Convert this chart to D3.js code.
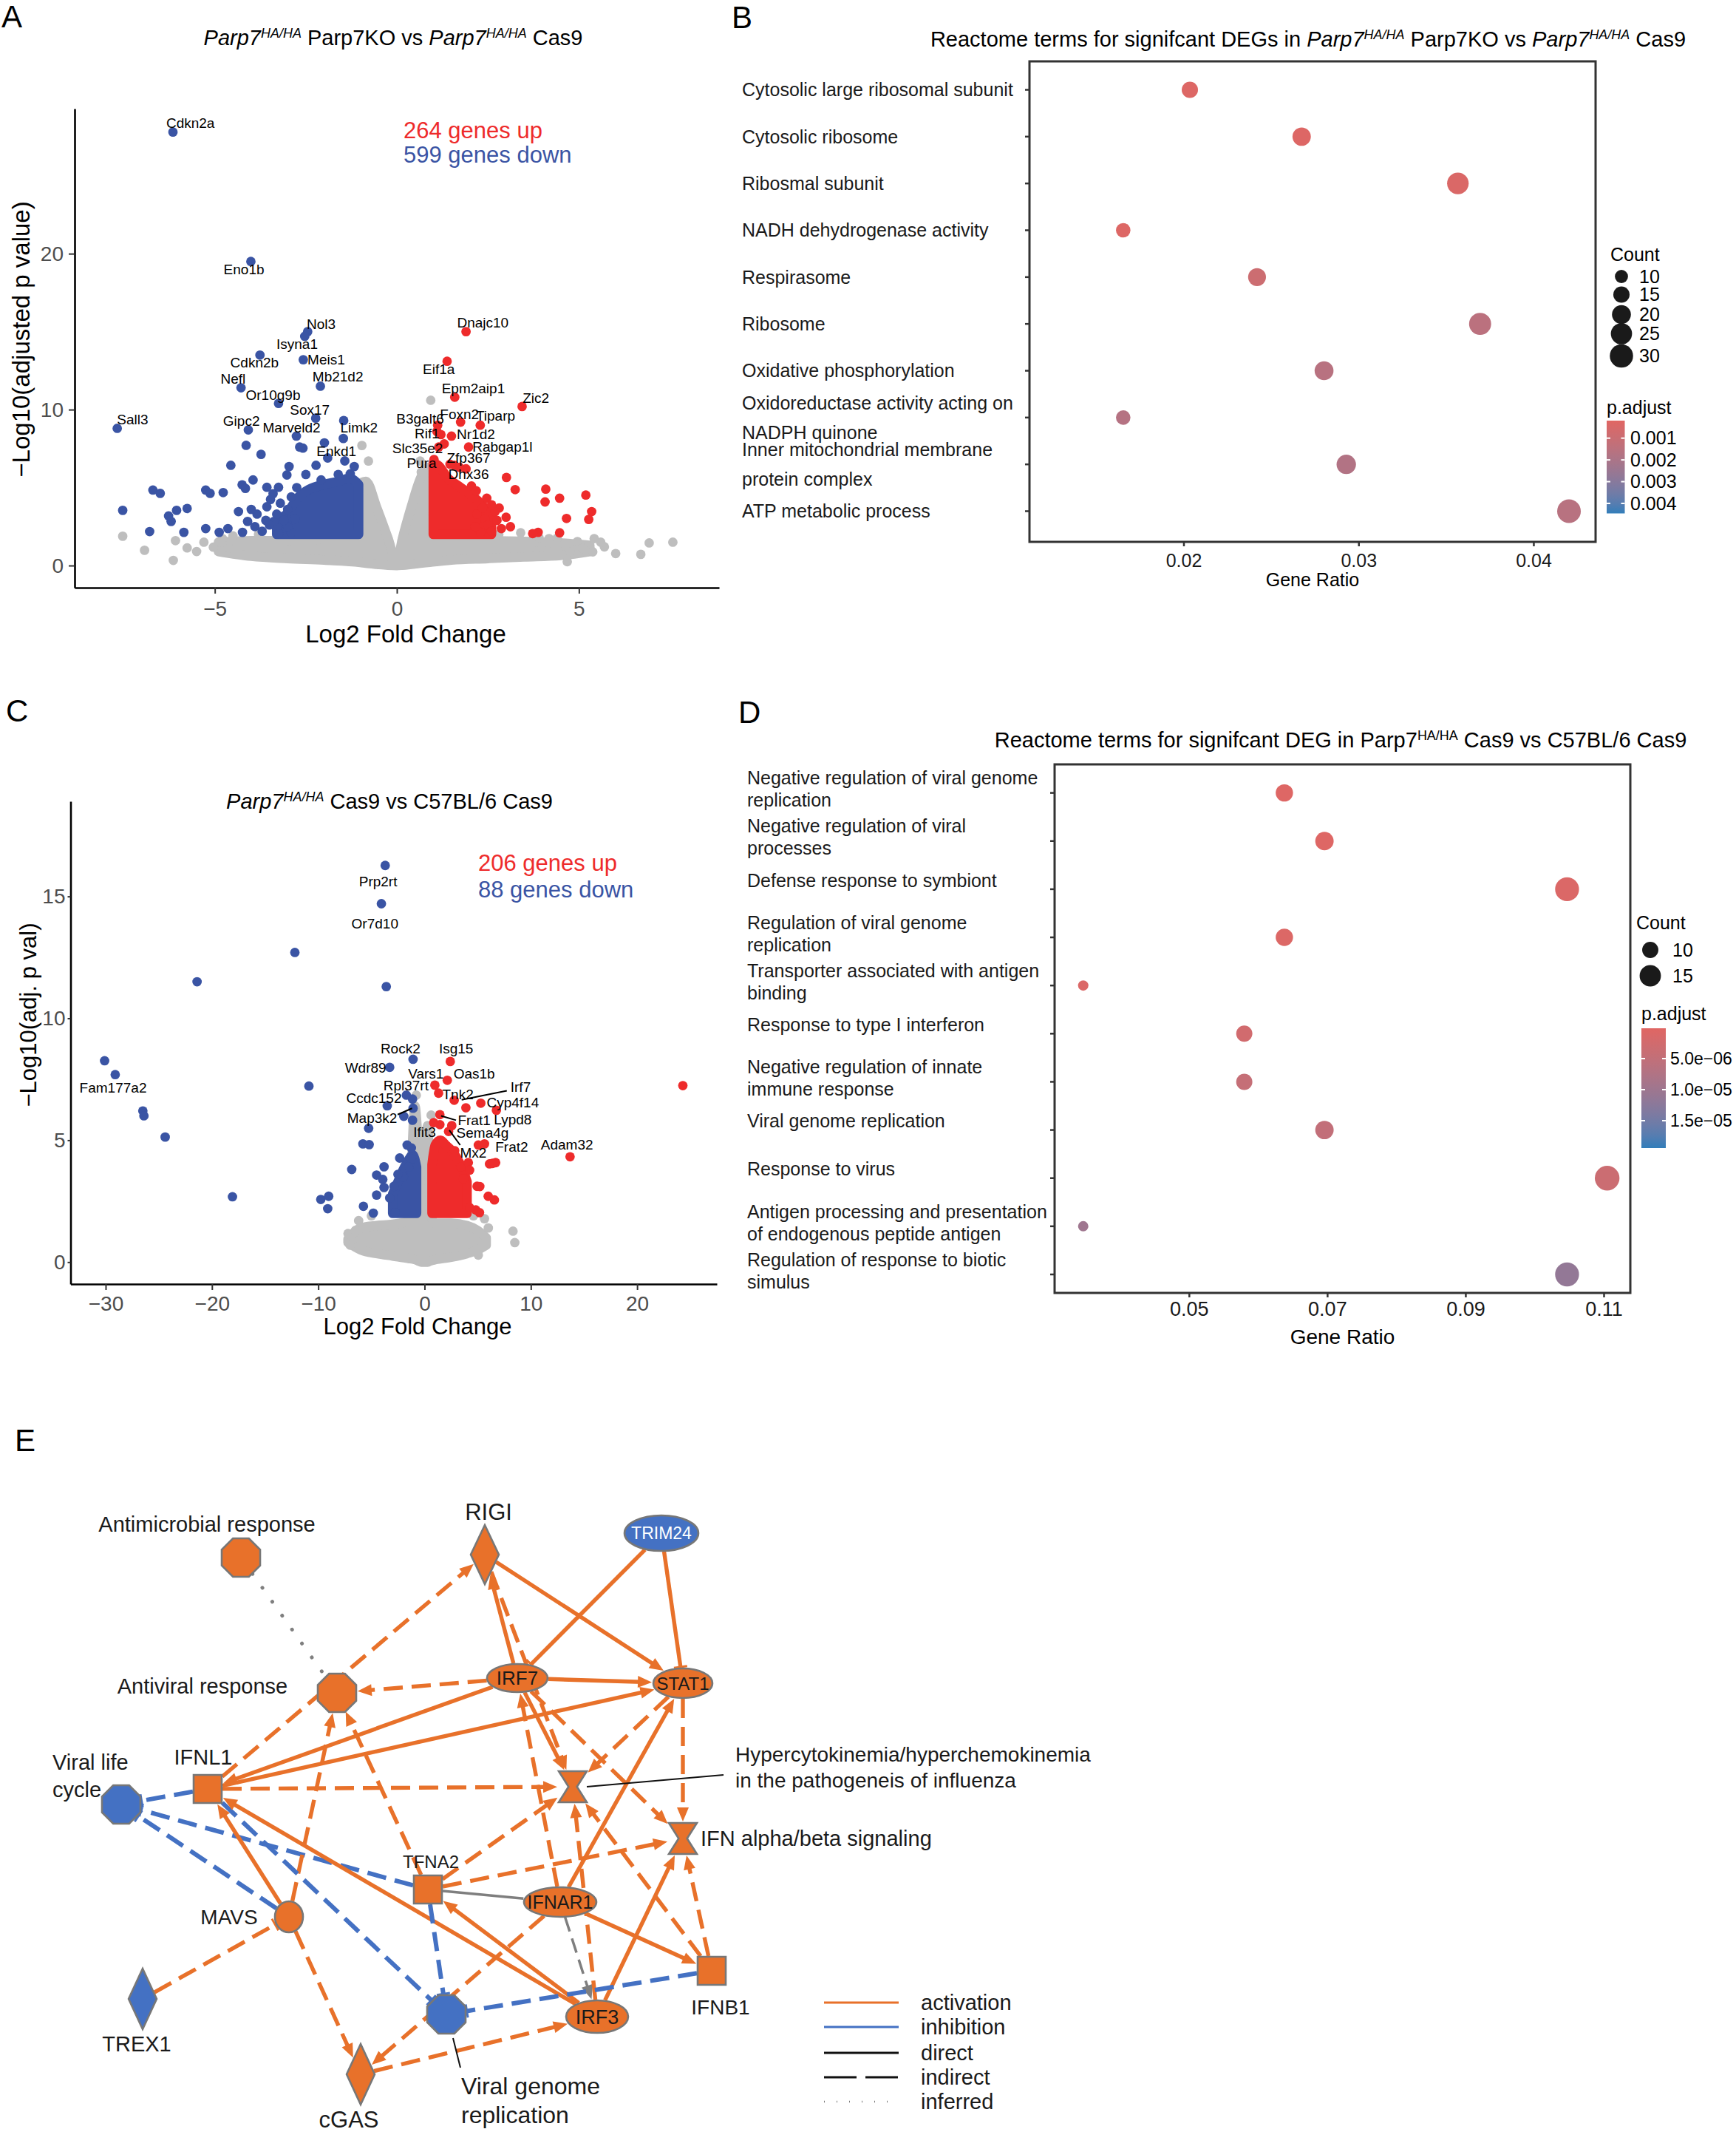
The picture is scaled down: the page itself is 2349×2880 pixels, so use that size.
<!DOCTYPE html>
<html>
<head>
<meta charset="utf-8">
<script src="https://cdn.jsdelivr.net/npm/d3@7"></script>
<style>
  body { margin: 0; background: #fff; }
</style>
</head>
<body>
<div id="fig"></div>
<script>
// ---------------- data: panel A (Parp7KO vs Cas9 volcano) ----------------
// labelled genes: [gene, log2FC, -log10 padj, label x, label y]
const aDownLabelled = [
  ["Cdkn2a", -6.15, 27.8, -5.67, 28.4], ["Eno1b", -4.01, 19.5, -4.2, 19.0],
  ["Nol3", -2.45, 15.0, -2.08, 15.5], ["Isyna1", -2.53, 14.7, -2.74, 14.2],
  ["Cdkn2b", -3.76, 13.5, -3.91, 13.0], ["Meis1", -2.57, 13.2, -1.94, 13.2],
  ["Mb21d2", -2.1, 11.5, -1.62, 12.1], ["Nefl", -4.28, 11.4, -4.5, 12.0],
  ["Or10g9b", -3.25, 10.4, -3.4, 10.95], ["Sox17", -2.23, 9.45, -2.39, 10.0],
  ["Sall3", -7.68, 8.8, -7.26, 9.36], ["Gipc2", -4.08, 8.7, -4.27, 9.28],
  ["Marveld2", -2.76, 8.3, -2.89, 8.83], ["Limk2", -1.46, 9.3, -1.04, 8.83],
  ["Enkd1", -1.9, 6.9, -1.66, 7.32]
];
const aUpLabelled = [
  ["Dnajc10", 1.9, 15.0, 2.36, 15.6], ["Eif1a", 1.38, 13.1, 1.15, 12.6],
  ["Epm2aip1", 1.59, 10.8, 2.1, 11.35], ["Zic2", 3.44, 10.2, 3.82, 10.74],
  ["B3galt6", 1.12, 9.0, 0.64, 9.42], ["Foxn2", 1.75, 9.2, 1.72, 9.7],
  ["Tiparp", 2.29, 9.0, 2.71, 9.6], ["Rif1", 1.21, 8.4, 0.83, 8.49],
  ["Nr1d2", 1.5, 8.3, 2.17, 8.44], ["Rabgap1l", 1.97, 7.6, 2.9, 7.64],
  ["Slc35e2", 1.15, 7.6, 0.57, 7.51], ["Zfp367", 1.46, 6.5, 1.97, 6.9],
  ["Pura", 1.02, 6.8, 0.68, 6.58], ["Dhx36", 1.72, 6.3, 1.97, 5.86]
];
const aDownPts = [
  [-7.53,3.54],[-6.7,4.84],[-6.5,4.63],[-6.79,2.18],[-6.27,3.18],[-6.2,2.83],[-6.05,3.54],
  [-5.76,3.66],[-5.85,2.13],[-5.25,4.84],[-5.13,4.63],[-4.77,4.68],[-5.25,2.37],[-4.88,2.13],
  [-4.64,2.37],[-4.56,6.43],[-4.35,3.46],[-4.25,5.18],[-4.14,7.71],[-3.95,5.49],[-4.16,4.95],
  [-3.84,3.3],[-4.1,2.83],[-4.24,2.13],[-3.73,7.13],[-3.57,5.02],[-3.47,4.24],[-3.57,3.77],
  [-3.38,2.83],[-3.25,2.05],[-3.25,5.02],[-3.02,5.81],[-2.96,6.35],[-2.9,2.13],[-3.13,3.15],
  [-2.67,7.6],[-2.58,7.53],[-2.5,5.84],[-2.22,6.43],[-1.99,7.87],[-2.08,5.49],[-1.61,5.84],
  [-1.47,8.15],[-1.43,6.71],[-1.28,5.88],[-1.17,6.35],[-3.4,4.6],[-3.2,4.0],[-3.0,3.6],
  [-2.9,4.4],[-2.8,3.0],[-3.3,3.3],[-3.0,2.5],[-2.75,5.0],[-3.1,2.9],[-3.5,2.6],[-4.0,3.6],
  [-3.9,2.5],[-3.7,2.2],[-3.6,2.9]
];
const aUpPts = [
  [3.01,5.65],[2.05,5.1],[2.18,4.79],[3.25,4.87],[4.09,4.9],[4.07,4.08],[4.47,4.32],
  [5.19,4.52],[5.35,3.46],[5.27,2.96],[4.66,3.02],[4.47,2.1],[3.88,2.13],[3.73,2.05],
  [3.12,2.49],[2.87,2.37],[2.81,3.69],[2.7,3.46],[2.47,4.32],[2.41,2.99],[2.3,2.13],
  [1.9,6.2],[1.58,6.43],[2.6,3.9],[2.5,2.6],[2.2,3.3],[2.35,3.7],[2.6,2.2],[2.75,2.9],
  [3.0,3.1],[2.15,2.5],[1.3,7.8],[1.1,8.6]
];
const aGrayPts = [
  [-7.53,1.88],[-6.93,0.98],[-6.14,0.33],[-6.08,1.6],[-5.76,1.13],[-5.04,1.18],[-4.79,1.73],
  [6.93,1.45],[7.58,1.5],[6.7,0.72],[6.01,0.77],[5.38,0.88],[5.42,1.73],[4.96,1.54],
  [4.68,0.25],[4.76,0.88],[4.18,1.73],[-0.96,7.7],[-0.78,6.7],[0.67,6.0],[0.93,10.6],
  [0.64,6.7],[5.7,1.2],[5.1,1.1],[-5.5,0.9],[-4.6,1.1],[-4.5,1.9],[-3.8,2.0],[-3.3,1.95],
  [2.8,2.0],[3.4,2.1],[3.9,1.8],[4.4,1.75],[-5.3,1.5],[5.6,1.5]
];
// dense clouds read as envelopes: x, lower and upper -log10 padj
const aGrayX    = [-4.9, -4.0, -3.0, -2.0, -1.0, -0.85, -0.55, -0.25, 0.0, 0.15, 0.4, 0.65, 0.85, 1.5, 2.5, 3.5, 4.5, 5.3];
const aGrayLow  = [0.9, 0.6, 0.45, 0.35, 0.2, 0.15, 0.08, 0.02, 0.0, 0.02, 0.08, 0.15, 0.2, 0.35, 0.45, 0.55, 0.65, 0.9];
const aGrayHigh = [1.5, 1.6, 1.6, 1.7, 5.3, 5.4, 3.7, 1.8, 0.2, 1.7, 3.8, 5.6, 6.3, 1.6, 1.6, 1.55, 1.45, 1.3];
const aDownBlockX    = [-3.3, -3.0, -2.7, -2.4, -2.0, -1.6, -1.3, -1.05];
const aDownBlockHigh = [2.6, 3.4, 4.4, 4.9, 5.2, 5.4, 5.6, 5.2];
const aUpBlockX    = [1.0, 1.15, 1.4, 1.7, 2.0, 2.3, 2.6];
const aUpBlockHigh = [6.6, 6.4, 5.6, 5.1, 4.6, 4.0, 3.2];
const aCounts = ["264 genes up", "599 genes down"];

// ---------------- data: panel C (Parp7 Cas9 vs C57BL/6 Cas9 volcano) ----------------
const cDownLabelled = [
  ["Prp2rt", -3.7, 16.27, -4.37, 15.6], ["Or7d10", -4.06, 14.7, -4.67, 13.9],
  ["Fam177a2", -29.1, 7.69, -29.3, 7.15], ["Rock2", -1.08, 8.32, -2.27, 8.76],
  ["Wdr89", -3.28, 7.99, -5.55, 7.98], ["Rpl37rt", -1.71, 6.85, -1.75, 7.25],
  ["Ccdc152", -3.51, 6.41, -4.76, 6.72], ["Map3k2", -1.08, 6.31, -4.93, 5.9]
];
const cUpLabelled = [
  ["Isg15", 2.42, 8.23, 2.97, 8.76], ["Vars1", 0.97, 7.26, 0.13, 7.72],
  ["Oas1b", 2.14, 7.46, 4.67, 7.72], ["Tnk2", 1.32, 6.93, 3.14, 6.89],
  ["Irf7", 2.79, 6.64, 9.04, 7.2], ["Cyp4f14", 5.29, 6.52, 8.3, 6.55],
  ["Lypd8", 6.76, 6.23, 8.3, 5.85], ["Frat1", 1.44, 6.05, 4.67, 5.82],
  ["Ifit3", 0.86, 5.72, 0.0, 5.35], ["Sema4g", 2.56, 5.6, 5.46, 5.3],
  ["Mx2", 2.26, 5.36, 4.59, 4.49], ["Frat2", 5.64, 4.85, 8.2, 4.73],
  ["Adam32", 13.69, 4.32, 13.4, 4.82]
];
// label leader segments [x1, y1, x2, y2] in data units
const cLeaders = [[3.49,6.66,7.74,7.03],[-2.53,6.05,-1.17,6.31],[1.56,6.0,2.96,5.82],[2.33,5.41,3.35,4.8]];
const cDownPts = [
  [-12.2,12.7],[-21.4,11.5],[-3.6,11.3],[-30.1,8.26],[-10.88,7.22],[-26.5,6.2],[-26.4,6.0],
  [-24.4,5.13],[-18.07,2.68],[-6.85,3.8],[-1.13,6.69],[-1.95,5.98],[-1.13,5.82],[-5.26,5.49],
  [-5.8,4.85],[-5.21,4.82],[-1.64,4.8],[-1.24,4.68],[-2.34,4.27],[-1.24,4.23],[-3.81,3.91],
  [-4.51,3.57],[-3.93,3.39],[-3.81,3.06],[-2.88,3.11],[-4.51,2.75],[-3.28,2.63],[-9.76,2.57],
  [-9.02,2.7],[-9.11,2.19],[-5.75,2.29],[-4.82,2.01],[-2.76,2.03],[-2.0,3.5],[-1.5,3.9],[-2.5,3.6]
];
const cUpPts = [
  [3.89,6.33],[1.44,5.64],[2.84,4.57],[5.06,4.8],[6.11,4.03],[6.69,4.08],[6.4,4.05],
  [3.42,3.91],[4.12,4.08],[4.24,3.77],[3.66,3.42],[4.94,3.11],[5.2,3.1],[5.99,2.7],
  [6.57,2.55],[4.82,2.14],[5.17,2.03],[4.24,2.24],[24.3,7.24]
];
const cGrayPts = [[8.32,1.27],[8.49,0.8],[5.06,0.29],[5.64,1.78],[-7.2,1.17],[-6.5,1.3],[-7.0,0.7],[-0.78,6.85],[0.62,6.03],
  [-6.2,1.7],[-5.0,1.9],[4.6,1.9],[6.0,1.4]];
const cGrayX    = [-7.2, -6.0, -4.5, -3.0, -1.5, -0.9, -0.6, -0.3, 0.0, 0.3, 0.55, 1.0, 2.5, 4.0, 5.0, 5.8];
const cGrayLow  = [0.8, 0.5, 0.35, 0.25, 0.15, 0.1, 0.05, 0.0, 0.0, 0.0, 0.05, 0.1, 0.2, 0.35, 0.5, 0.7];
const cGrayHigh = [0.95, 1.4, 1.5, 1.55, 1.7, 6.4, 5.0, 4.4, 4.7, 5.6, 2.0, 1.6, 1.6, 1.5, 1.3, 1.0];
const cDownBlockX    = [-3.0, -2.5, -2.0, -1.5, -1.1, -0.75];
const cDownBlockHigh = [2.8, 3.3, 3.8, 4.2, 4.4, 3.9];
const cUpBlockX    = [0.7, 1.0, 1.5, 2.0, 2.5, 3.0, 3.5, 4.0];
const cUpBlockHigh = [4.0, 4.8, 5.0, 4.8, 4.6, 4.3, 3.9, 3.3];
const cCounts = ["206 genes up", "88 genes down"];

// ---------------- data: panel B (Reactome, Parp7KO vs Cas9) ----------------
const bTerms = [
  "Cytosolic large ribosomal subunit", "Cytosolic ribosome", "Ribosmal subunit",
  "NADH dehydrogenase activity", "Respirasome", "Ribosome", "Oxidative phosphorylation",
  "Oxidoreductase activity acting on\nNADPH quinone", "Inner mitochondrial membrane\nprotein complex",
  "ATP metabolic process"
];
const bRatio = [0.02036, 0.02675, 0.03568, 0.01655, 0.0242, 0.03695, 0.02803, 0.01655, 0.0293, 0.04203];
const bCount = [15, 19, 26, 12, 18, 27, 20, 12, 21, 31];
const bPadj  = [0.0003, 0.0003, 0.0004, 0.0003, 0.0009, 0.0015, 0.0016, 0.0017, 0.0018, 0.0016];
const bXTicks = [0.02, 0.03, 0.04];
const bCountBreaks = [10, 15, 20, 25, 30];
const bPadjBreaks = [0.001, 0.002, 0.003, 0.004];

// ---------------- data: panel D (Reactome, Parp7 Cas9 vs C57BL/6 Cas9) ----------------
const dTerms = [
  "Negative regulation of viral genome\nreplication", "Negative regulation of viral\nprocesses",
  "Defense response to symbiont", "Regulation of viral genome\nreplication",
  "Transporter associated with antigen\nbinding", "Response to type I interferon",
  "Negative regulation of innate\nimmune response", "Viral genome replication",
  "Response to virus", "Antigen processing and presentation\nof endogenous peptide antigen",
  "Regulation of response to biotic\nsimulus"
];
const dRatio = [0.0638, 0.0696, 0.1047, 0.0638, 0.0347, 0.058, 0.058, 0.0696, 0.1105, 0.0347, 0.1047];
const dCount = [11, 12, 18, 11, 6, 10, 10, 12, 19, 6, 18];
const dPadj  = [5e-7, 5e-7, 1e-6, 8e-7, 1e-6, 2.5e-6, 4.5e-6, 5e-6, 3.5e-6, 1.0e-5, 1.15e-5];
const dXTicks = [0.05, 0.07, 0.09, 0.11];
const dCountBreaks = [10, 15];
const dPadjBreaks = [5e-6, 1e-5, 1.5e-5];

// ---------------- data: panel E (network) ----------------
const nodeIds    = ["AMR","RIGI","TRIM24","AVR","IRF7","STAT1","VLC","IFNL1","HYP","IFNAB","TFNA2","IFNAR1","MAVS","IFNB1","TREX1","VGR","IRF3","CGAS"];
const nodeNames  = ["Antimicrobial response","RIGI","TRIM24","Antiviral response","IRF7","STAT1","Viral life\ncycle","IFNL1",
                    "Hypercytokinemia/hyperchemokinemia\nin the pathogeneis of influenza","IFN alpha/beta signaling","TFNA2","IFNAR1",
                    "MAVS","IFNB1","TREX1","Viral genome\nreplication","IRF3","cGAS"];
const nodeShapes = ["octagon","diamond","ellipse","octagon","ellipse","ellipse","octagon","square","hourglass","hourglass",
                    "square","ellipse","circle","square","diamond","octagon","ellipse","diamond"];
const nodeState  = ["up","up","down","up","up","up","down","up","up","up","up","up","up","up","down","down","up","up"];
// [source, target, predicted effect, relation, end]
const edges = [
  ["AMR","AVR","none","inferred","none"], ["IFNL1","RIGI","act","indirect","arrow"],
  ["IRF7","AVR","act","indirect","arrow"], ["IRF7","RIGI","act","direct","arrow"],
  ["RIGI","HYP","act","indirect","arrow"], ["RIGI","STAT1","act","direct","arrow"],
  ["TRIM24","IRF7","act","direct","bar"], ["TRIM24","STAT1","act","direct","bar"],
  ["IRF7","STAT1","act","direct","arrow"], ["IRF7","IFNL1","act","direct","arrow"],
  ["IFNL1","STAT1","act","direct","arrow"], ["IFNL1","HYP","act","indirect","arrow"],
  ["IFNL1","VLC","inh","indirect","bar"], ["TFNA2","VLC","inh","indirect","bar"],
  ["MAVS","VLC","inh","indirect","bar"], ["MAVS","IFNL1","act","direct","arrow"],
  ["MAVS","AVR","act","indirect","arrow"], ["MAVS","CGAS","act","indirect","arrow"],
  ["TREX1","MAVS","act","indirect","bar"], ["IFNL1","VGR","inh","indirect","bar"],
  ["IRF3","IFNL1","act","direct","arrow"], ["TFNA2","AVR","act","indirect","arrow"],
  ["TFNA2","HYP","act","indirect","arrow"], ["TFNA2","IFNAB","act","indirect","arrow"],
  ["TFNA2","IFNAR1","none","direct","none"], ["TFNA2","VGR","inh","indirect","bar"],
  ["IRF3","TFNA2","act","direct","arrow"], ["IFNAR1","IRF7","act","indirect","arrow"],
  ["IRF7","HYP","act","direct","arrow"], ["IRF7","IFNAB","act","indirect","arrow"],
  ["STAT1","HYP","act","indirect","arrow"], ["STAT1","IFNAB","act","indirect","arrow"],
  ["IFNAR1","STAT1","act","direct","arrow"], ["IFNAR1","IFNB1","act","direct","arrow"],
  ["IFNAR1","CGAS","act","indirect","arrow"], ["IFNAR1","IRF3","none","indirect","arrow"],
  ["IRF3","HYP","act","indirect","arrow"], ["IRF3","IFNAB","act","direct","arrow"],
  ["IFNB1","IFNAB","act","indirect","arrow"], ["IFNB1","HYP","act","indirect","arrow"],
  ["IFNB1","VGR","inh","indirect","bar"], ["CGAS","IRF3","act","indirect","arrow"]
];
const legendItems = ["activation", "inhibition", "direct", "indirect", "inferred"];

// ---------------- layout ----------------
const W = 2349, H = 2880;
const FONT = "'Liberation Sans', Arial, Helvetica, sans-serif";
const GRAY = "#bebebe", BLUE = "#3a54a4", RED = "#ee2b2b";
const ORANGE = "#e8712a", NBLUE = "#4471c3";
const PT = 6.4;

// node centre, half width, half height
const NODE_POS = {
  AMR: [326, 2107, 26, 26], RIGI: [656, 2103, 19, 40], TRIM24: [895, 2074, 50, 24],
  AVR: [456, 2290, 26, 26], IRF7: [700, 2270, 41, 19], STAT1: [924, 2277, 40, 20],
  VLC: [164, 2441, 26, 26], IFNL1: [281, 2420, 19, 19], HYP: [775, 2417, 19, 21],
  IFNAB: [924, 2487, 19, 21], TFNA2: [579, 2556, 19, 19], IFNAR1: [758, 2573, 49, 20],
  MAVS: [391, 2593, 19, 21], IFNB1: [963, 2666, 19, 19], TREX1: [193, 2704, 19, 41],
  VGR: [604, 2725, 26, 26], IRF3: [808, 2728, 42, 22], CGAS: [488, 2806, 19, 41]
};
// outside label: x, y, anchor, size, line height
const NODE_LABEL = {
  AMR: [280, 2062, "middle", 29], RIGI: [661, 2045, "middle", 31], AVR: [274, 2281, "middle", 29],
  VLC: [71, 2384, "start", 29, 37], IFNL1: [275, 2377, "middle", 29],
  HYP: [995, 2373, "start", 28, 35], IFNAB: [948, 2487, "start", 29],
  TFNA2: [583, 2519, "middle", 24], MAVS: [310, 2593, "middle", 28], IFNB1: [975, 2715, "middle", 28],
  TREX1: [185, 2765, "middle", 29], VGR: [624, 2822, "start", 32, 39], CGAS: [472, 2867, "middle", 31]
};
const INSIDE_SIZE = { TRIM24: 23, IRF7: 26, STAT1: 24, IFNAR1: 25, IRF3: 27 };

const svg = d3.select("#fig").append("svg")
  .attr("width", W).attr("height", H)
  .style("font-family", FONT);
svg.append("rect").attr("width", W).attr("height", H).attr("fill", "#fff");

// panel letters
[["A", 2, 37], ["B", 990, 38], ["C", 8, 976], ["D", 999, 978], ["E", 20, 1963]].forEach(([t, x, y]) => {
  svg.append("text").attr("x", x).attr("y", y).attr("font-size", 42).text(t);
});

// text with italic / superscript runs
function rich(sel, parts, size) {
  const sh = size * 0.36;
  let up = false;
  parts.forEach(p => {
    const t = sel.append("tspan").text(p.t);
    if (p.i) t.attr("font-style", "italic");
    if (p.sup) { t.attr("font-size", size * 0.62).attr("dy", -sh); up = true; }
    else if (up) { t.attr("dy", sh); up = false; }
  });
}

// scientific label like ggplot: 5.0e-06
function sci(v) {
  const e = Math.floor(Math.log10(v) + 1e-9);
  const m = v / Math.pow(10, e);
  return m.toFixed(1) + "e" + (e < 0 ? "\u2212" : "+") + String(Math.abs(e)).padStart(2, "0");
}

// ---------------- volcano plots ----------------
function volcano(c) {
  const g = svg.append("g");
  const x = d3.scaleLinear().domain(c.xDomain).range(c.xRange);
  const y = d3.scaleLinear().domain(c.yDomain).range(c.yRange);

  const area = d3.area().x(d => x(d[0])).y0(d => y(d[1])).y1(d => y(d[2])).curve(d3.curveMonotoneX);
  const blob = (rows, color) => g.append("path").datum(rows).attr("d", area)
    .attr("fill", color).attr("stroke", color).attr("stroke-width", 2 * PT).attr("stroke-linejoin", "round");
  const dots = (rows, color) => g.append("g").selectAll("circle").data(rows).enter().append("circle")
    .attr("cx", d => x(d[0])).attr("cy", d => y(d[1])).attr("r", PT).attr("fill", color);

  blob(d3.zip(c.grayX, c.grayLow, c.grayHigh), GRAY);
  dots(c.grayPts, GRAY);
  blob(c.downX.map((v, i) => [v, 2.0, c.downHigh[i]]), BLUE);
  dots(c.downPts, BLUE);
  dots(c.downLab.map(d => [d[1], d[2]]), BLUE);
  blob(c.upX.map((v, i) => [v, 2.0, c.upHigh[i]]), RED);
  dots(c.upPts, RED);
  dots(c.upLab.map(d => [d[1], d[2]]), RED);

  // leader lines and gene labels
  g.append("g").selectAll("line").data(c.leaders).enter().append("line")
    .attr("x1", d => x(d[0])).attr("y1", d => y(d[1])).attr("x2", d => x(d[2])).attr("y2", d => y(d[3]))
    .attr("stroke", "#000").attr("stroke-width", 2);
  g.append("g").selectAll("text").data(c.downLab.concat(c.upLab)).enter().append("text")
    .attr("x", d => x(d[3])).attr("y", d => y(d[4])).attr("dy", "0.35em")
    .attr("text-anchor", "middle").attr("font-size", 19).text(d => d[0]);

  // axes
  const xa = g.append("g").attr("transform", `translate(0,${c.yRange[0]})`)
    .call(d3.axisBottom(x).tickValues(c.xTicks).tickSize(8).tickSizeOuter(0));
  xa.selectAll("text").attr("y", c.xLabOff).attr("dy", "0.35em").attr("font-size", c.tickSize).attr("fill", "#4d4d4d").attr("font-family", FONT);
  const ya = g.append("g").attr("transform", `translate(${c.xRange[0]},0)`)
    .call(d3.axisLeft(y).tickValues(c.yTicks).tickSize(c.yTickLen).tickPadding(c.yPad).tickSizeOuter(0));
  ya.selectAll("text").attr("font-size", c.tickSize).attr("fill", "#4d4d4d").attr("font-family", FONT);
  [xa, ya].forEach(a => {
    a.select(".domain").attr("stroke", "#000").attr("stroke-width", 2.6);
    a.selectAll(".tick line").attr("stroke", "#333").attr("stroke-width", 2);
  });

  // titles
  const t = g.append("text").attr("x", c.title[0]).attr("y", c.title[1]).attr("dy", "0.35em")
    .attr("text-anchor", "middle").attr("font-size", 29);
  rich(t, c.titleParts, 29);
  g.append("text").attr("x", c.xTitle[0]).attr("y", c.xTitle[1]).attr("dy", "0.35em")
    .attr("text-anchor", "middle").attr("font-size", c.axisSize).text("Log2 Fold Change");
  g.append("text").attr("transform", `translate(${c.yTitle[0]},${c.yTitle[1]}) rotate(-90)`).attr("dy", "0.35em")
    .attr("text-anchor", "middle").attr("font-size", c.axisSize).text(c.yTitleText);
  g.append("text").attr("x", c.counts[0]).attr("y", c.counts[1]).attr("dy", "0.35em")
    .attr("font-size", 31).attr("fill", RED).text(c.countText[0]);
  g.append("text").attr("x", c.counts[0]).attr("y", c.counts[2]).attr("dy", "0.35em")
    .attr("font-size", 31).attr("fill", BLUE).text(c.countText[1]);
}

volcano({
  xDomain: [-8.85, 8.85], xRange: [101, 973], yDomain: [-1.42, 29.3], yRange: [795, 147],
  xTicks: [-5, 0, 5], yTicks: [0, 10, 20], xLabOff: 28, yTickLen: 8, yPad: 7, tickSize: 28, axisSize: 33,
  grayX: aGrayX, grayLow: aGrayLow, grayHigh: aGrayHigh, grayPts: aGrayPts,
  downX: aDownBlockX, downHigh: aDownBlockHigh, downPts: aDownPts, downLab: aDownLabelled,
  upX: aUpBlockX, upHigh: aUpBlockHigh, upPts: aUpPts, upLab: aUpLabelled, leaders: [],
  title: [532, 51], titleParts: [{t: "Parp7", i: 1}, {t: "HA/HA", i: 1, sup: 1}, {t: " Parp7KO vs "},
    {t: "Parp7", i: 1}, {t: "HA/HA", i: 1, sup: 1}, {t: " Cas9"}],
  xTitle: [549, 857], yTitle: [28, 459], yTitleText: "\u2212Log10(adjusted p value)",
  counts: [546, 176, 209], countText: aCounts
});

volcano({
  xDomain: [-33.3, 27.5], xRange: [95.5, 970], yDomain: [-0.9, 18.9], yRange: [1737, 1084],
  xTicks: [-30, -20, -10, 0, 10, 20], yTicks: [0, 5, 10, 15], xLabOff: 26, yTickLen: 4, yPad: 3, tickSize: 28, axisSize: 31,
  grayX: cGrayX, grayLow: cGrayLow, grayHigh: cGrayHigh, grayPts: cGrayPts,
  downX: cDownBlockX, downHigh: cDownBlockHigh, downPts: cDownPts, downLab: cDownLabelled,
  upX: cUpBlockX, upHigh: cUpBlockHigh, upPts: cUpPts, upLab: cUpLabelled, leaders: cLeaders,
  title: [527, 1084], titleParts: [{t: "Parp7", i: 1}, {t: "HA/HA", i: 1, sup: 1}, {t: " Cas9 vs C57BL/6 Cas9"}],
  xTitle: [565, 1794], yTitle: [38, 1373], yTitleText: "\u2212Log10(adj. p val)",
  counts: [647, 1167, 1203], countText: cCounts
});

// ---------------- enrichment dot plots ----------------
function dotplot(c) {
  const g = svg.append("g");
  const [bx0, by0, bx1, by1] = c.box;
  const x = d3.scaleLinear().domain(c.xDomain).range([bx0, bx1]);
  const y = d3.scalePoint().domain(c.terms).range(c.yRange);
  const area = d3.scaleLinear().domain(c.countDomain).range([c.rRange[0] ** 2, c.rRange[1] ** 2]);
  const r = v => Math.sqrt(Math.max(area(v), 4));
  const col = d3.scaleLinear().domain(c.padjLimits).range(["#e06663", "#327eba"]).interpolate(d3.interpolateLab);

  g.append("rect").attr("x", bx0).attr("y", by0).attr("width", bx1 - bx0).attr("height", by1 - by0)
    .attr("fill", "none").attr("stroke", "#333").attr("stroke-width", 3);

  // y ticks and term labels
  g.append("g").selectAll("line").data(c.terms).enter().append("line")
    .attr("x1", bx0 - 6).attr("x2", bx0).attr("y1", d => y(d)).attr("y2", d => y(d))
    .attr("stroke", "#333").attr("stroke-width", 2.5);
  c.terms.forEach(term => {
    const lines = term.split("\n");
    const base = y(term) + (lines.length > 1 ? c.twoLineOff : c.oneLineOff);
    lines.forEach((ln, k) => {
      g.append("text").attr("x", c.labelX).attr("y", base + k * c.lineGap).attr("dy", "0.35em")
        .attr("font-size", 25).attr("fill", "#1a1a1a").text(ln);
    });
  });

  // x axis
  const xa = g.append("g").attr("transform", `translate(0,${by1})`)
    .call(d3.axisBottom(x).tickValues(c.xTicks).tickSize(6).tickFormat(d3.format(".2f")));
  xa.select(".domain").remove();
  xa.selectAll(".tick line").attr("stroke", "#333").attr("stroke-width", 2.5);
  xa.selectAll("text").attr("y", c.tickOff).attr("dy", "0.35em").attr("font-size", c.tickSize)
    .attr("fill", "#1a1a1a").attr("font-family", FONT);
  g.append("text").attr("x", (bx0 + bx1) / 2).attr("y", c.xTitleY).attr("dy", "0.35em")
    .attr("text-anchor", "middle").attr("font-size", c.xTitleSize).text("Gene Ratio");

  // points
  g.append("g").selectAll("circle").data(c.terms).enter().append("circle")
    .attr("cx", (d, i) => x(c.ratio[i])).attr("cy", d => y(d))
    .attr("r", (d, i) => r(c.count[i])).attr("fill", (d, i) => col(c.padj[i]));

  // title
  const t = g.append("text").attr("x", c.titleXY[0]).attr("y", c.titleXY[1]).attr("dy", "0.35em")
    .attr("text-anchor", "middle").attr("font-size", 29);
  rich(t, c.titleParts, 29);

  // size legend
  const L = c.countLegend;
  g.append("text").attr("x", L.x).attr("y", L.y).attr("dy", "0.35em").attr("font-size", 25).text("Count");
  c.countBreaks.forEach((v, i) => {
    g.append("circle").attr("cx", L.kx).attr("cy", L.ky[i]).attr("r", r(v)).attr("fill", "#1a1a1a");
    g.append("text").attr("x", L.lx).attr("y", L.ky[i]).attr("dy", "0.35em").attr("font-size", 25).text(v);
  });

  // colour bar legend
  const P = c.padjLegend;
  const gid = "grad" + c.id;
  const grad = svg.append("defs").append("linearGradient").attr("id", gid)
    .attr("x1", 0).attr("y1", 0).attr("x2", 0).attr("y2", 1);
  d3.range(0, 1.0001, 0.1).forEach(f => {
    grad.append("stop").attr("offset", f)
      .attr("stop-color", col(c.padjLimits[0] + f * (c.padjLimits[1] - c.padjLimits[0])));
  });
  g.append("text").attr("x", P.x).attr("y", P.y).attr("dy", "0.35em").attr("font-size", 25).text("p.adjust");
  g.append("rect").attr("x", P.bx).attr("y", P.by0).attr("width", P.bw).attr("height", P.by1 - P.by0)
    .attr("fill", `url(#${gid})`);
  const ly = d3.scaleLinear().domain(c.padjLimits).range([P.by0, P.by1]);
  c.padjBreaks.forEach(v => {
    [[P.bx, P.bx + 5], [P.bx + P.bw - 5, P.bx + P.bw]].forEach(([a, b]) => {
      g.append("line").attr("x1", a).attr("x2", b).attr("y1", ly(v)).attr("y2", ly(v))
        .attr("stroke", "#fff").attr("stroke-width", 2);
    });
    g.append("text").attr("x", P.lx).attr("y", ly(v)).attr("dy", "0.35em").attr("font-size", P.size)
      .text(c.padjFormat(v));
  });
}

dotplot({
  id: "B", box: [1393, 83, 2159, 733], xDomain: [0.011193, 0.04355], yRange: [121.5, 691.5],
  terms: bTerms, ratio: bRatio, count: bCount, padj: bPadj, xTicks: bXTicks,
  countDomain: [12, 31], rRange: [9.8, 16], padjLimits: [0.000194, 0.00446],
  labelX: 1004, oneLineOff: 0, twoLineOff: -20, lineGap: 40,
  tickOff: 25, tickSize: 25, xTitleY: 784, xTitleSize: 25,
  titleXY: [1770, 53], titleParts: [{t: "Reactome terms for signifcant DEGs in "}, {t: "Parp7", i: 1},
    {t: "HA/HA", i: 1, sup: 1}, {t: " Parp7KO vs "}, {t: "Parp7", i: 1}, {t: "HA/HA", i: 1, sup: 1}, {t: " Cas9"}],
  countBreaks: bCountBreaks, countLegend: {x: 2179, y: 344, kx: 2194, lx: 2218, ky: [374, 398.5, 425.5, 451.5, 481.5]},
  padjBreaks: bPadjBreaks, padjFormat: d3.format(".3f"),
  padjLegend: {x: 2174, y: 551, bx: 2174, bw: 24.5, by0: 569, by1: 694.5, lx: 2206, size: 25}
});

dotplot({
  id: "D", box: [1427, 1034, 2206, 1749], xDomain: [0.03056, 0.11385], yRange: [1072.6, 1724],
  terms: dTerms, ratio: dRatio, count: dCount, padj: dPadj, xTicks: dXTicks,
  countDomain: [6, 19], rRange: [7, 16.7], padjLimits: [1.2e-7, 1.94e-5],
  labelX: 1011, oneLineOff: -12, twoLineOff: -20, lineGap: 30,
  tickOff: 22, tickSize: 27, xTitleY: 1808, xTitleSize: 28,
  titleXY: [1814, 1001], titleParts: [{t: "Reactome terms for signifcant DEG in Parp7"}, {t: "HA/HA", sup: 1},
    {t: " Cas9 vs C57BL/6 Cas9"}],
  countBreaks: dCountBreaks, countLegend: {x: 2214, y: 1248, kx: 2233, lx: 2263, ky: [1285, 1320]},
  padjBreaks: dPadjBreaks, padjFormat: sci,
  padjLegend: {x: 2221, y: 1371, bx: 2221, bw: 33, by0: 1391, by1: 1553, lx: 2260, size: 23}
});

// ---------------- network ----------------
const nodes = {};
nodeIds.forEach((id, i) => {
  const p = NODE_POS[id];
  nodes[id] = {id, name: nodeNames[i], shape: nodeShapes[i], state: nodeState[i], x: p[0], y: p[1], hw: p[2], hh: p[3]};
});

function reach(n, ux, uy) {
  const ax = Math.abs(ux) || 1e-9, ay = Math.abs(uy) || 1e-9;
  if (n.shape === "square" || n.shape === "hourglass") return Math.min(n.hw / ax, n.hh / ay);
  if (n.shape === "diamond") return 1 / (ax / n.hw + ay / n.hh);
  return 1 / Math.sqrt((ux / n.hw) ** 2 + (uy / n.hh) ** 2);
}

const EFFECT_COLOR = {act: ORANGE, inh: NBLUE, none: "#7f7f7f"};
const eg = svg.append("g");
edges.forEach(([s, t, eff, kind, end]) => {
  const a = nodes[s], b = nodes[t];
  const dx = b.x - a.x, dy = b.y - a.y, len = Math.hypot(dx, dy);
  const ux = dx / len, uy = dy / len, px = -uy, py = ux;
  const x1 = a.x + ux * (reach(a, ux, uy) + 1), y1 = a.y + uy * (reach(a, ux, uy) + 1);
  const tipD = reach(b, -ux, -uy) + 2;
  const x2 = b.x - ux * tipD, y2 = b.y - uy * tipD;
  const color = EFFECT_COLOR[eff];
  const wid = eff === "none" ? (kind === "inferred" ? 5 : 3.5) : (eff === "inh" ? 6 : 5.4);
  const back = end === "arrow" ? 14 : 0;
  const line = eg.append("line").attr("x1", x1).attr("y1", y1)
    .attr("x2", x2 - ux * back).attr("y2", y2 - uy * back)
    .attr("stroke", color).attr("stroke-width", wid);
  if (kind === "indirect") line.attr("stroke-dasharray", eff === "none" ? "20,10" : "26,12");
  if (kind === "inferred") line.attr("stroke-dasharray", "0.1,23").attr("stroke-linecap", "round");
  if (end === "arrow") {
    const bxp = x2 - ux * 19, byp = y2 - uy * 19;
    eg.append("path")
      .attr("d", `M${x2},${y2}L${bxp + px * 8},${byp + py * 8}L${bxp - px * 8},${byp - py * 8}Z`)
      .attr("fill", color);
  } else if (end === "bar") {
    eg.append("line").attr("x1", x2 + px * 9).attr("y1", y2 + py * 9).attr("x2", x2 - px * 9).attr("y2", y2 - py * 9)
      .attr("stroke", color).attr("stroke-width", 3);
  }
});

// label leader lines
[[794, 2417, 979, 2401], [613, 2757, 623, 2797]].forEach(d => {
  eg.append("line").attr("x1", d[0]).attr("y1", d[1]).attr("x2", d[2]).attr("y2", d[3])
    .attr("stroke", "#111").attr("stroke-width", 2);
});

function shapePath(n) {
  const {hw, hh} = n;
  if (n.shape === "octagon") {
    const R = hw / Math.cos(Math.PI / 8);
    return d3.range(8).map(k => {
      const a = Math.PI / 8 + k * Math.PI / 4;
      return [R * Math.cos(a), R * Math.sin(a)];
    });
  }
  if (n.shape === "diamond") return [[0, -hh], [hw, 0], [0, hh], [-hw, 0]];
  if (n.shape === "hourglass") return [[-hw, -hh], [hw, -hh], [hw * 0.3, 0], [hw, hh], [-hw, hh], [-hw * 0.3, 0]];
  return [[-hw, -hh], [hw, -hh], [hw, hh], [-hw, hh]];
}

const ng = svg.append("g");
Object.values(nodes).forEach(n => {
  const fill = n.state === "up" ? ORANGE : NBLUE;
  const g = ng.append("g").attr("transform", `translate(${n.x},${n.y})`);
  if (n.shape === "ellipse" || n.shape === "circle") {
    g.append("ellipse").attr("rx", n.hw).attr("ry", n.hh);
  } else {
    g.append("path").attr("d", "M" + shapePath(n).join("L") + "Z");
  }
  g.selectAll("ellipse,path").attr("fill", fill).attr("stroke", "#777").attr("stroke-width", 2.6);
  if (INSIDE_SIZE[n.id]) {
    g.append("text").attr("text-anchor", "middle").attr("dy", "0.36em")
      .attr("font-size", INSIDE_SIZE[n.id]).attr("fill", n.state === "up" ? "#1a1a1a" : "#fff").text(n.name);
  }
  const L = NODE_LABEL[n.id];
  if (L) {
    n.name.split("\n").forEach((ln, k) => {
      ng.append("text").attr("x", L[0]).attr("y", L[1] + k * (L[4] || 0)).attr("dy", "0.35em")
        .attr("text-anchor", L[2]).attr("font-size", L[3]).attr("fill", "#1a1a1a").text(ln);
    });
  }
});

// network legend
const LEG = {x0: 1115, x1: 1216, lx: 1246, y: [2709, 2742, 2777, 2810, 2843]};
const legStyle = [
  {c: ORANGE, w: 3, d: null}, {c: NBLUE, w: 3, d: null}, {c: "#111", w: 3, d: null},
  {c: "#111", w: 3, d: "44,12"}, {c: "#777", w: 2.5, d: "1,16"}
];
legendItems.forEach((lab, i) => {
  const s = legStyle[i];
  const ln = svg.append("line").attr("x1", LEG.x0).attr("x2", LEG.x1).attr("y1", LEG.y[i]).attr("y2", LEG.y[i])
    .attr("stroke", s.c).attr("stroke-width", s.w);
  if (s.d) ln.attr("stroke-dasharray", s.d);
  svg.append("text").attr("x", LEG.lx).attr("y", LEG.y[i]).attr("dy", "0.35em").attr("font-size", 29)
    .attr("fill", "#1a1a1a").text(lab);
});
</script>
</body>
</html>
